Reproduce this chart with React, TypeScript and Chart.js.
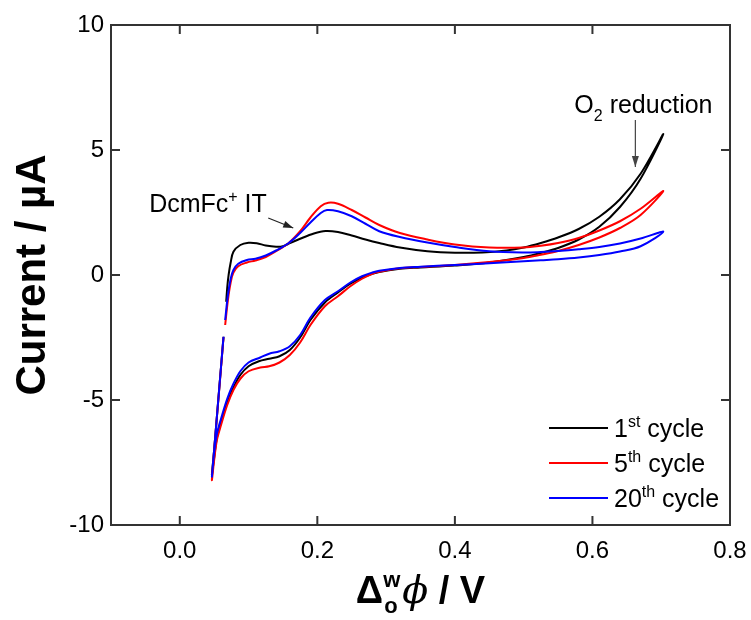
import React, { useEffect, useRef } from 'react';
import { Chart, registerables } from 'chart.js';

Chart.register(...registerables);

// ---------- data (potential in V, current in µA) ----------
const cycle1UpX = [0.0675, 0.069, 0.071, 0.074, 0.078, 0.088, 0.1, 0.112, 0.125, 0.14, 0.15, 0.158, 0.175, 0.195, 0.212, 0.23, 0.25, 0.27, 0.29, 0.32, 0.36, 0.4, 0.44, 0.475, 0.5, 0.525, 0.55, 0.58, 0.61, 0.64, 0.67, 0.703];
const cycle1UpY = [-1.07, -0.5, 0.0, 0.5, 0.93, 1.2, 1.29, 1.27, 1.18, 1.13, 1.15, 1.25, 1.45, 1.66, 1.76, 1.72, 1.58, 1.42, 1.28, 1.1, 0.95, 0.89, 0.9, 0.98, 1.1, 1.28, 1.5, 1.84, 2.33, 3.03, 4.05, 5.64];
const cycle1DownX = [0.67, 0.64, 0.61, 0.58, 0.55, 0.525, 0.5, 0.45, 0.4, 0.35, 0.32, 0.29, 0.27, 0.248, 0.23, 0.211, 0.19, 0.175, 0.16, 0.145, 0.13, 0.115, 0.1, 0.088, 0.078, 0.069, 0.06, 0.054, 0.05, 0.0467, 0.05, 0.055, 0.06, 0.0636];
const cycle1DownY = [3.85, 2.72, 1.93, 1.42, 1.08, 0.88, 0.72, 0.5, 0.38, 0.3, 0.25, 0.12, -0.05, -0.35, -0.7, -1.1, -1.8, -2.5, -3.0, -3.25, -3.35, -3.45, -3.65, -4.0, -4.5, -5.1, -5.9, -6.5, -7.3, -8.0, -6.98, -5.32, -3.66, -2.47];

const cycle5UpX = [0.066, 0.07, 0.074, 0.078, 0.085, 0.0976, 0.11, 0.125, 0.14, 0.158, 0.175, 0.19, 0.205, 0.216, 0.23, 0.25, 0.27, 0.29, 0.32, 0.36, 0.4, 0.45, 0.5, 0.525, 0.55, 0.58, 0.61, 0.64, 0.67, 0.703];
const cycle5UpY = [-2.0, -1.0, -0.3, 0.1, 0.35, 0.5, 0.58, 0.72, 0.95, 1.27, 1.75, 2.3, 2.75, 2.89, 2.85, 2.6, 2.3, 2.0, 1.68, 1.42, 1.22, 1.1, 1.1, 1.17, 1.28, 1.48, 1.78, 2.15, 2.65, 3.36];
const cycle5DownX = [0.67, 0.64, 0.61, 0.58, 0.55, 0.525, 0.5, 0.45, 0.4, 0.35, 0.32, 0.29, 0.28, 0.265, 0.248, 0.23, 0.211, 0.19, 0.175, 0.16, 0.145, 0.13, 0.117, 0.1, 0.088, 0.078, 0.069, 0.06, 0.054, 0.05, 0.0467, 0.05, 0.055, 0.06, 0.0636];
const cycle5DownY = [2.4, 1.88, 1.5, 1.2, 0.96, 0.81, 0.68, 0.52, 0.4, 0.32, 0.27, 0.13, 0.05, -0.15, -0.45, -0.85, -1.25, -2.0, -2.7, -3.2, -3.5, -3.65, -3.7, -3.85, -4.15, -4.6, -5.2, -6.0, -6.6, -7.4, -8.2, -7.0, -5.35, -3.7, -2.5];

const cycle20UpX = [0.066, 0.07, 0.074, 0.078, 0.085, 0.0976, 0.11, 0.125, 0.14, 0.158, 0.175, 0.19, 0.205, 0.214, 0.23, 0.25, 0.27, 0.29, 0.32, 0.36, 0.4, 0.45, 0.5, 0.525, 0.55, 0.58, 0.61, 0.64, 0.67, 0.703];
const cycle20UpY = [-1.8, -0.8, -0.15, 0.2, 0.45, 0.6, 0.65, 0.78, 0.98, 1.27, 1.68, 2.1, 2.48, 2.6, 2.55, 2.35, 2.05, 1.75, 1.52, 1.3, 1.12, 0.95, 0.9, 0.92, 0.96, 1.03, 1.12, 1.26, 1.46, 1.73];
const cycle20DownX = [0.67, 0.64, 0.61, 0.58, 0.55, 0.525, 0.5, 0.45, 0.4, 0.35, 0.32, 0.29, 0.28, 0.265, 0.248, 0.23, 0.211, 0.19, 0.175, 0.16, 0.145, 0.13, 0.117, 0.1, 0.088, 0.078, 0.069, 0.06, 0.054, 0.05, 0.0467, 0.05, 0.055, 0.06, 0.0636];
const cycle20DownY = [1.15, 0.94, 0.8, 0.7, 0.63, 0.59, 0.55, 0.47, 0.4, 0.33, 0.28, 0.17, 0.1, -0.05, -0.3, -0.65, -1.0, -1.7, -2.4, -2.85, -3.05, -3.15, -3.3, -3.5, -3.85, -4.35, -4.95, -5.75, -6.35, -7.1, -8.07, -6.98, -5.32, -3.66, -2.47];

const xTickValues = [0.0, 0.2, 0.4, 0.6, 0.8];
const yTickValues = [-10, -5, 0, 5, 10];
const seriesNames = ['1', '5', '20'];
const seriesSup = ['st', 'th', 'th'];
const seriesColors = ['#000000', '#ff0000', '#0000ff'];

const FONT = '"Liberation Sans", Arial, sans-serif';

function pts(xs: number[], ys: number[]) {
  return xs.map((x, i) => ({ x, y: ys[i] }));
}

function arrowHead(ctx: CanvasRenderingContext2D, x1: number, y1: number, x2: number, y2: number, len: number, half: number) {
  const a = Math.atan2(y2 - y1, x2 - x1);
  ctx.beginPath();
  ctx.moveTo(x2, y2);
  ctx.lineTo(x2 - len * Math.cos(a) + half * Math.sin(a), y2 - len * Math.sin(a) - half * Math.cos(a));
  ctx.lineTo(x2 - len * Math.cos(a) - half * Math.sin(a), y2 - len * Math.sin(a) + half * Math.cos(a));
  ctx.closePath();
  ctx.fill();
}

function richText(ctx: CanvasRenderingContext2D, parts: [string, string][], x: number, y: number, size: number, weight = 'normal') {
  let cx = x;
  for (const [t, k] of parts) {
    if (k === 'n') {
      ctx.font = `${weight} ${size}px ${FONT}`;
      ctx.fillText(t, cx, y);
    } else if (k === 'sup') {
      ctx.font = `${weight} ${Math.round(size * 0.62)}px ${FONT}`;
      ctx.fillText(t, cx, y - size * 0.4);
    } else {
      ctx.font = `${weight} ${Math.round(size * 0.62)}px ${FONT}`;
      ctx.fillText(t, cx, y + size * 0.3);
    }
    cx += ctx.measureText(t).width;
  }
  return cx - x;
}

const framePlugin = {
  id: 'frame',
  afterDraw(chart: any) {
    const ctx: CanvasRenderingContext2D = chart.ctx;
    const { left, right, top, bottom } = chart.chartArea;
    const xs = chart.scales.x;
    const ys = chart.scales.y;
    ctx.save();
    ctx.strokeStyle = '#333333';
    ctx.lineWidth = 2;
    ctx.strokeRect(left, top, right - left, bottom - top);
    const tl = 9;
    ctx.beginPath();
    for (const v of xTickValues) {
      const px = xs.getPixelForValue(v);
      if (px <= left + 1 || px >= right - 1) continue;
      ctx.moveTo(px, bottom);
      ctx.lineTo(px, bottom - tl);
      ctx.moveTo(px, top);
      ctx.lineTo(px, top + tl);
    }
    for (const v of yTickValues) {
      const py = ys.getPixelForValue(v);
      if (py <= top + 1 || py >= bottom - 1) continue;
      ctx.moveTo(left, py);
      ctx.lineTo(left + tl, py);
      ctx.moveTo(right, py);
      ctx.lineTo(right - tl, py);
    }
    ctx.stroke();

    // annotations
    ctx.fillStyle = '#000';
    ctx.textBaseline = 'alphabetic';
    ctx.textAlign = 'left';
    richText(ctx, [['DcmFc', 'n'], ['+', 'sup'], [' IT', 'n']], xs.getPixelForValue(-0.0445), ys.getPixelForValue(2.52), 25);
    ctx.strokeStyle = '#222';
    ctx.fillStyle = '#222';
    ctx.lineWidth = 1.2;
    {
      const x1 = xs.getPixelForValue(0.1286), y1 = ys.getPixelForValue(2.28);
      const x2 = xs.getPixelForValue(0.165), y2 = ys.getPixelForValue(1.88);
      ctx.beginPath(); ctx.moveTo(x1, y1); ctx.lineTo(x2, y2); ctx.stroke();
      arrowHead(ctx, x1, y1, x2, y2, 10, 3.5);
    }
    ctx.fillStyle = '#000';
    richText(ctx, [['O', 'n'], ['2', 'sub'], [' reduction', 'n']], xs.getPixelForValue(0.5737), ys.getPixelForValue(6.48), 25);
    ctx.strokeStyle = '#444';
    ctx.fillStyle = '#444';
    {
      const x1 = xs.getPixelForValue(0.6624), y1 = ys.getPixelForValue(6.2);
      const x2 = x1, y2 = ys.getPixelForValue(4.32);
      ctx.beginPath(); ctx.moveTo(x1, y1); ctx.lineTo(x2, y2); ctx.stroke();
      arrowHead(ctx, x1, y1, x2, y2, 11, 3.5);
    }

    // legend
    const lx1 = right - 181, lx2 = right - 122;
    const rows = [bottom - 97, bottom - 62, bottom - 27];
    for (let i = 0; i < 3; i++) {
      ctx.strokeStyle = seriesColors[i];
      ctx.lineWidth = 2;
      ctx.beginPath();
      ctx.moveTo(lx1, rows[i]);
      ctx.lineTo(lx2, rows[i]);
      ctx.stroke();
      ctx.fillStyle = '#000';
      richText(ctx, [[seriesNames[i], 'n'], [seriesSup[i], 'sup'], [' cycle', 'n']], lx2 + 6, rows[i] + 9, 25);
    }

    // axis titles
    ctx.fillStyle = '#000';
    ctx.save();
    ctx.translate(33, (top + bottom) / 2);
    ctx.rotate(-Math.PI / 2);
    ctx.font = `bold 42px ${FONT}`;
    ctx.textAlign = 'center';
    ctx.textBaseline = 'middle';
    ctx.fillText('Current / µA', 0, 0);
    ctx.restore();

    // x title: Δ_o^w ϕ / V
    const big = 38, small = 22;
    const phiFont = `italic 38px "DejaVu Serif", serif`;
    ctx.font = `bold ${big}px ${FONT}`;
    const wD = ctx.measureText('Δ').width;
    ctx.font = `bold ${small}px ${FONT}`;
    const wS = Math.max(ctx.measureText('o').width, ctx.measureText('w').width);
    ctx.font = phiFont;
    const wP = ctx.measureText('ϕ').width;
    ctx.font = `bold ${big}px ${FONT}`;
    const wR = ctx.measureText(' / V').width;
    const total = wD + wS + 2 + wP + wR;
    let cx = (left + right) / 2 - total / 2;
    const by = 603;
    ctx.textAlign = 'left';
    ctx.textBaseline = 'alphabetic';
    ctx.font = `bold ${big}px ${FONT}`;
    ctx.fillText('Δ', cx, by);
    cx += wD;
    ctx.font = `bold ${small}px ${FONT}`;
    ctx.fillText('w', cx, by - 16);
    ctx.fillText('o', cx + 1, by + 10);
    cx += wS + 2;
    ctx.font = phiFont;
    ctx.fillText('ϕ', cx, by);
    cx += wP;
    ctx.font = `bold ${big}px ${FONT}`;
    ctx.fillText(' / V', cx, by);
    ctx.restore();
  },
};

export default function App() {
  const ref = useRef<HTMLCanvasElement | null>(null);
  useEffect(() => {
    document.body.style.margin = '0';
    const canvas = ref.current;
    if (!canvas) return;
    const mk = (label: string, up: any[], down: any[], color: string, order: number) => ({
      label,
      data: [...up, ...down],
      showLine: true,
      borderColor: color,
      backgroundColor: color,
      borderWidth: 2,
      pointRadius: 0,
      tension: 0.35,
      fill: false,
      order,
    });
    const chart = new Chart(canvas, {
      type: 'scatter',
      data: {
        datasets: [
          mk('1st cycle', pts(cycle1UpX, cycle1UpY), pts(cycle1DownX, cycle1DownY), seriesColors[0], 3),
          mk('5th cycle', pts(cycle5UpX, cycle5UpY), pts(cycle5DownX, cycle5DownY), seriesColors[1], 2),
          mk('20th cycle', pts(cycle20UpX, cycle20UpY), pts(cycle20DownX, cycle20DownY), seriesColors[2], 1),
        ],
      },
      options: {
        responsive: false,
        animation: false,
        layout: { padding: { top: 25, right: 21, left: 0, bottom: 0 } },
        plugins: { legend: { display: false }, tooltip: { enabled: false } },
        scales: {
          x: {
            type: 'linear',
            min: -0.1,
            max: 0.8,
            afterBuildTicks: (s: any) => { s.ticks = xTickValues.map((v) => ({ value: v })); },
            afterFit: (s: any) => { s.height = 95; s.paddingLeft = 0; s.paddingRight = 0; },
            grid: { display: false, drawTicks: false },
            border: { display: false },
            ticks: {
              padding: 12,
              autoSkip: false,
              maxRotation: 0,
              color: '#000',
              font: { family: FONT, size: 24 },
              callback: (v: any) => Number(v).toFixed(1),
            },
          },
          y: {
            type: 'linear',
            min: -10,
            max: 10,
            afterBuildTicks: (s: any) => { s.ticks = yTickValues.map((v) => ({ value: v })); },
            afterFit: (s: any) => { s.width = 111; s.paddingTop = 0; s.paddingBottom = 0; },
            grid: { display: false, drawTicks: false },
            border: { display: false },
            ticks: {
              padding: 7,
              color: '#000',
              font: { family: FONT, size: 24 },
              callback: (v: any) => String(v),
            },
          },
        },
      },
      plugins: [framePlugin],
    });
    return () => chart.destroy();
  }, []);
  return <canvas ref={ref} width={751} height={620} style={{ display: 'block' }} />;
}
